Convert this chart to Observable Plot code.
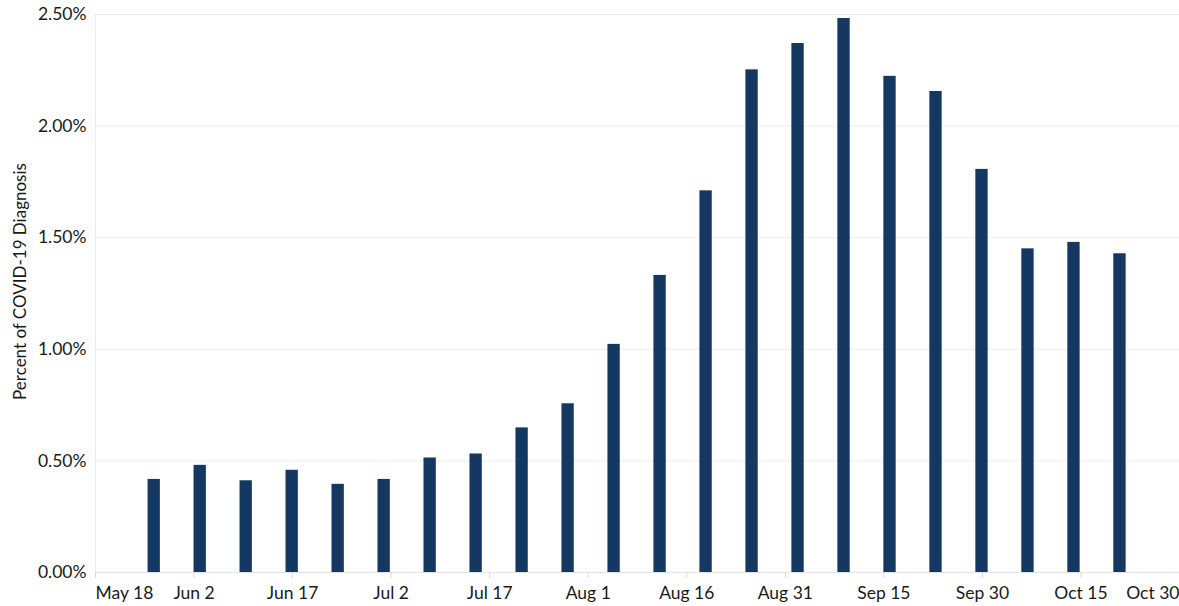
<!DOCTYPE html>
<html><head><meta charset="utf-8">
<script src="https://cdn.jsdelivr.net/npm/d3@7"></script>
<script src="https://cdn.jsdelivr.net/npm/@observablehq/plot@0.6"></script>
<style>body{margin:0;background:#fff;}</style>
</head><body><div id="chart"></div>
<script>
// Weekly bars (week start dates) and percent of tests with COVID-19 diagnosis
const weekStarts = ["2020-05-26","2020-06-02","2020-06-09","2020-06-16","2020-06-23","2020-06-30",
  "2020-07-07","2020-07-14","2020-07-21","2020-07-28","2020-08-04","2020-08-11","2020-08-18",
  "2020-08-25","2020-09-01","2020-09-08","2020-09-15","2020-09-22","2020-09-29","2020-10-06",
  "2020-10-13","2020-10-20"];
const percentValues = [0.417,0.480,0.411,0.458,0.395,0.417,0.513,0.531,0.648,0.756,1.022,1.331,
  1.710,2.252,2.370,2.482,2.223,2.155,1.806,1.450,1.479,1.428];
const xTickDates = ["2020-05-18","2020-06-02","2020-06-17","2020-07-02","2020-07-17","2020-08-01",
  "2020-08-16","2020-08-31","2020-09-15","2020-09-30","2020-10-15","2020-10-30"];
const xTickLabels = ["May 18","Jun 2","Jun 17","Jul 2","Jul 17","Aug 1","Aug 16","Aug 31",
  "Sep 15","Sep 30","Oct 15","Oct 30"];
const yTicks = [0, 0.005, 0.01, 0.015, 0.02, 0.025];
const yLabel = "Percent of COVID-19 Diagnosis";

const parse = d3.utcParse("%Y-%m-%d");
const data = weekStarts.map((d, i) => ({start: parse(d), end: d3.utcHour.offset(parse(d), 45), value: percentValues[i] / 100}));
const tickDates = xTickDates.map(parse);
const labelOf = new Map(tickDates.map((d, i) => [+d, xTickLabels[i]]));
const fmt = d => labelOf.get(+d);
const first = [tickDates[0]], last = [tickDates[tickDates.length - 1]], mid = tickDates.slice(1, -1);
const fs = 17.5;

const chart = Plot.plot({
  width: 1179, height: 606,
  marginTop: 14, marginBottom: 34, marginLeft: 95, marginRight: 0,
  style: {fontFamily: "Lato, 'Open Sans', sans-serif", fontSize: fs + "px", color: "#1a1a1a", background: "#fff"},
  x: {type: "utc", domain: [tickDates[0], tickDates[tickDates.length - 1]]},
  y: {domain: [0, 0.025]},
  marks: [
    Plot.gridY(yTicks, {stroke: "#ececec", strokeOpacity: 1}),
    Plot.ruleX(first, {stroke: "#ececec"}),
    Plot.ruleY([0], {stroke: "#e4e4e4"}),
    Plot.axisY(yTicks, {tickSize: 0, tickPadding: 9, tickFormat: d3.format(".2%"), label: null, fontSize: fs}),
    Plot.text([yLabel], {frameAnchor: "left", textAnchor: "middle", rotate: -90, dx: -75, dy: -12, fontSize: 17, fill: "#1a1a1a"}),
    Plot.axisX(tickDates, {text: null, tickSize: 6, stroke: "#d8d8d8", label: null}),
    Plot.axisX(mid, {tickSize: 0, tickPadding: 14, tickFormat: fmt, label: null, fontSize: fs}),
    Plot.axisX(first, {tickSize: 0, tickPadding: 14, tickFormat: fmt, label: null, textAnchor: "start", fontSize: fs}),
    Plot.axisX(last, {tickSize: 0, tickPadding: 14, tickFormat: fmt, label: null, textAnchor: "end", fontSize: fs}),
    Plot.rectY(data, {x1: "start", x2: "end", y: "value", fill: "#153862"})
  ]
});
document.getElementById("chart").append(chart);
</script></body></html>
